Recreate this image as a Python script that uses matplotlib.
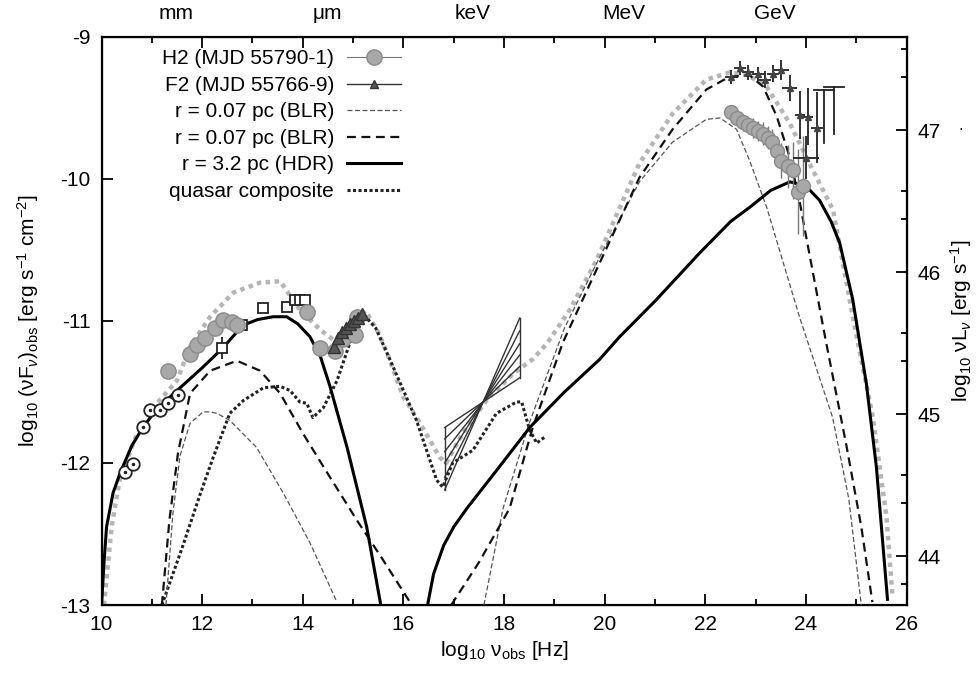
import numpy as np
import matplotlib.pyplot as plt
from matplotlib.lines import Line2D

plt.rcParams['font.family'] = ['Liberation Sans', 'DejaVu Sans']
plt.rcParams['mathtext.fontset'] = 'custom'
plt.rcParams['mathtext.rm'] = 'Liberation Sans'
plt.rcParams['mathtext.it'] = 'Liberation Sans:italic'

# ---- modele HDR (r = 3.2 pc), synchrotron puis IC
hdr_syn_x = [10.0, 10.05, 10.10, 10.23, 10.37, 10.6, 10.82, 11.1, 11.5, 12.0, 12.41, 12.81,
             13.1, 13.41, 13.68, 13.9, 14.14, 14.35, 14.54, 14.88, 15.27, 15.55]
hdr_syn_y = [-13.0, -12.7, -12.45, -12.21, -12.07, -11.88, -11.75, -11.62, -11.49, -11.33, -11.19, -11.03,
             -10.99, -10.97, -10.97, -11.02, -11.11, -11.25, -11.46, -11.89, -12.45, -13.0]
hdr_ic_x = [16.48, 16.6, 16.8, 17.0, 17.26, 17.9, 18.51, 19.2, 19.9, 20.3, 21.0, 21.89, 22.5,
            22.88, 23.3, 23.68, 24.0, 24.27, 24.5, 24.67, 24.93, 25.2, 25.4, 25.62]
hdr_ic_y = [-13.0, -12.78, -12.58, -12.45, -12.32, -12.03, -11.75, -11.5, -11.27, -11.11, -10.86, -10.52, -10.3,
            -10.2, -10.08, -10.02, -10.05, -10.15, -10.3, -10.45, -10.85, -11.44, -12.03, -12.96]

# ---- BLR fin (tirets fins)
blr1_syn_x = [11.28, 11.42, 11.56, 11.76, 12.02, 12.16, 12.29, 12.55, 13.08, 13.61, 14.14, 14.68]
blr1_syn_y = [-13.0, -12.35, -11.95, -11.72, -11.64, -11.64, -11.65, -11.70, -11.89, -12.21, -12.56, -12.98]
blr1_ic_x = [17.6, 17.98, 18.5, 19.2, 19.9, 20.69, 21.35, 22.02, 22.29, 22.62, 22.88, 23.22, 23.87,
             24.53, 24.85, 25.1]
blr1_ic_y = [-13.0, -12.32, -11.72, -11.05, -10.55, -10.02, -9.74, -9.58, -9.57, -9.65, -9.87, -10.2, -10.97,
             -11.68, -12.25, -13.0]

# ---- BLR epais (tirets)
blr2_syn_x = [11.2, 11.35, 11.52, 11.76, 12.16, 12.69, 13.15, 13.55, 14.0, 14.54, 15.07, 15.59, 16.13]
blr2_syn_y = [-13.0, -12.4, -11.93, -11.51, -11.35, -11.28, -11.35, -11.51, -11.79, -12.1, -12.4, -12.68, -12.98]
blr2_ic_x = [16.95, 17.5, 18.11, 18.57, 19.17, 19.77, 20.69, 21.35, 22.02, 22.48, 22.88, 23.15, 23.42,
             23.68, 23.88, 24.0, 24.4, 24.8, 25.1, 25.32]
blr2_ic_y = [-13.0, -12.7, -12.32, -11.75, -11.15, -10.69, -9.99, -9.65, -9.37, -9.28, -9.27, -9.35, -9.56,
             -9.85, -10.17, -10.4, -11.15, -11.87, -12.45, -12.98]

# ---- composite quasar (pointilles)
qso_x = [11.2, 11.6, 11.96, 12.22, 12.55, 12.82, 13.22, 13.55, 13.75, 13.94, 14.08, 14.2, 14.41, 14.68,
         14.94, 15.2, 15.45, 15.73, 16.26, 16.66, 16.78, 16.98, 17.38, 17.85, 18.25, 18.35, 18.51, 18.65,
         18.72, 18.8]
qso_y = [-13.0, -12.6, -12.22, -11.96, -11.65, -11.56, -11.47, -11.46, -11.49, -11.57, -11.58, -11.68, -11.61,
         -11.42, -11.15, -10.95, -11.05, -11.27, -11.70, -12.12, -12.17, -12.0, -11.91, -11.65, -11.57, -11.57,
         -11.77, -11.86, -11.84, -11.82]

# ---- modele total (gris, hors legende)
tot_x = [10.05, 10.2, 10.37, 10.7, 11.1, 11.5, 11.76, 12.16, 12.62, 13.15, 13.55, 13.94, 14.34, 14.6, 14.8,
         15.0, 15.25, 15.5, 15.67, 15.99, 16.33, 16.72, 16.85, 17.18, 17.65, 18.18, 18.57, 18.85, 19.31, 19.84,
         20.69, 21.35, 22.02, 22.48, 22.85, 23.22, 23.68, 24.14, 24.54, 24.93, 25.33, 25.6, 25.72]
tot_y = [-13.0, -12.45, -12.1, -11.8, -11.58, -11.42, -11.18, -10.97, -10.80, -10.73, -10.72, -10.92, -11.06,
         -11.13, -11.1, -11.0, -10.93, -11.08, -11.22, -11.53, -11.72, -11.96, -12.0, -11.79, -11.56, -11.37,
         -11.27, -11.16, -10.92, -10.57, -9.89, -9.54, -9.30, -9.25, -9.27, -9.35, -9.61, -9.94, -10.22, -10.97,
         -11.68, -12.38, -12.94]

# ---- donnees H2 (cercles gris)
h2_x = [11.32, 11.76, 11.90, 12.06, 12.26, 12.42, 12.60, 12.69, 14.08, 14.34, 14.64, 14.80, 15.04, 15.07]
h2_y = [-11.35, -11.23, -11.17, -11.12, -11.05, -10.99, -11.01, -11.03, -10.94, -11.19, -11.21, -11.13, -11.10, -10.97]
h2g_x = [22.52, 22.63, 22.75, 22.85, 22.95, 23.05, 23.15, 23.25, 23.32, 23.42, 23.51, 23.64, 23.74, 23.84, 23.95]
h2g_y = [-9.53, -9.57, -9.60, -9.62, -9.64, -9.66, -9.68, -9.71, -9.74, -9.80, -9.87, -9.91, -9.94, -10.09, -10.05]
h2g_ey = [0.05, 0.05, 0.06, 0.06, 0.07, 0.07, 0.08, 0.08, 0.09, 0.10, 0.12, 0.15, 0.2, 0.3, 0.35]

# ---- donnees F2 (triangles / croix)
f2_x = [14.62, 14.70, 14.78, 14.86, 14.94, 15.02, 15.10, 15.18]
f2_y = [-11.18, -11.12, -11.08, -11.05, -11.02, -11.0, -10.98, -10.95]
f2g_x = [22.52, 22.68, 22.85, 23.05, 23.18, 23.35, 23.51, 23.68, 23.88, 24.04, 24.22, 24.0]
f2g_y = [-9.28, -9.22, -9.25, -9.26, -9.30, -9.26, -9.23, -9.36, -9.55, -9.56, -9.64, -9.85]
f2g_ex = [0.12, 0.12, 0.12, 0.12, 0.12, 0.12, 0.15, 0.15, 0.1, 0.1, 0.12, 0.25]
f2g_ey = [0.05, 0.05, 0.05, 0.05, 0.06, 0.06, 0.07, 0.09, 0.17, 0.2, 0.25, 0.15]
ul_x = [24.35, 24.55]
ul_y = [-9.37, -9.35]
ul_bas = [-9.75, -9.68]

# ---- autres donnees (cercles ouverts, carres)
rad_x = [10.47, 10.63, 10.82, 10.96, 11.16, 11.32, 11.52]
rad_y = [-12.06, -12.01, -11.75, -11.63, -11.63, -11.58, -11.52]
sq_x = [12.4, 12.79, 13.2, 13.68, 13.85, 13.95, 14.05]
sq_y = [-11.19, -11.03, -10.91, -10.90, -10.85, -10.85, -10.85]
sq_ey = [0.08, 0.02, 0.03, 0.03, 0.03, 0.03, 0.03]

# ---- papillon X (keV)
bt_x = [16.82, 18.31]
bt_gauche = [-11.75, -11.83, -11.92, -12.0, -12.1, -12.19]
bt_droite = [-11.40, -11.32, -11.24, -11.16, -11.07, -10.98]

haut_pos = [11.48, 14.48, 17.38, 20.38, 23.38]
haut_lab = ['mm', 'μm', 'keV', 'MeV', 'GeV']

decal = 56.655   # log vL - log vF

fig = plt.figure(figsize=(9.78, 6.75), dpi=100)
ax = fig.add_axes([0.1038, 0.1037, 0.8232, 0.8415])

gris = '#a8a8a8'
ax.plot(tot_x, tot_y, color='#b5b5b5', ls=(0, (1, 1)), lw=3.2, zorder=1)
ax.plot(qso_x, qso_y, color='#222222', ls=(0, (1, 0.8)), lw=2.2, zorder=3)
ax.plot(blr1_syn_x, blr1_syn_y, color='#555555', ls=(0, (4, 2)), lw=0.9, zorder=3)
ax.plot(blr1_ic_x, blr1_ic_y, color='#555555', ls=(0, (4, 2)), lw=0.9, zorder=3)
ax.plot(blr2_syn_x, blr2_syn_y, color='#111111', ls=(0, (4, 2.5)), lw=1.6, zorder=3)
ax.plot(blr2_ic_x, blr2_ic_y, color='#111111', ls=(0, (4, 2.5)), lw=1.6, zorder=3)
ax.plot(hdr_syn_x, hdr_syn_y, color='black', lw=2.2, zorder=4)
ax.plot(hdr_ic_x, hdr_ic_y, color='black', lw=2.2, zorder=4)

# papillon
for yg, yd in zip(bt_gauche, bt_droite):
    ax.plot(bt_x, [yg, yd], color='#333333', lw=1.0, zorder=2)
ax.plot([bt_x[0], bt_x[0]], [bt_gauche[0], bt_gauche[-1]], color='#333333', lw=1.0)
ax.plot([bt_x[1], bt_x[1]], [bt_droite[0], bt_droite[-1]], color='#333333', lw=1.0)

# donnees
ax.plot(rad_x, rad_y, 'o', ms=9, mfc='white', mec='#222222', mew=1.3, zorder=5)
ax.plot(rad_x, rad_y, '.', ms=3, color='#222222', zorder=6)
ax.errorbar(sq_x, sq_y, yerr=sq_ey, fmt='s', ms=7, mfc='white', mec='#222222', mew=1.3,
            ecolor='#222222', elinewidth=1.3, capsize=0, zorder=5)
ax.errorbar(h2_x, h2_y, yerr=0.03, fmt='o', ms=11, color=gris, mec='#8a8a8a', ecolor='#777777',
            elinewidth=1, capsize=0, zorder=5)
ax.errorbar(h2g_x, h2g_y, yerr=h2g_ey, xerr=0.05, fmt='o', ms=10, color=gris, mec='#8a8a8a',
            ecolor='#777777', elinewidth=1, capsize=0, zorder=5)
ax.errorbar(f2_x, f2_y, yerr=0.04, fmt='^', ms=8, color='#555555', mec='#333333', ecolor='#333333',
            elinewidth=1, capsize=0, zorder=6)
ax.errorbar(f2g_x, f2g_y, xerr=f2g_ex, yerr=f2g_ey, fmt='^', ms=5, color='#444444', ecolor='#222222',
            elinewidth=1.3, capsize=0, zorder=6)
for x0, y0, yb in zip(ul_x, ul_y, ul_bas):
    ax.plot([x0 - 0.2, x0 + 0.2], [y0, y0], color='#222222', lw=1.3)
    ax.plot([x0, x0], [y0, yb], color='#222222', lw=1.3)

ax.set_xlim(10, 26)
ax.set_ylim(-13, -9)
ax.set_xticks(np.arange(10, 27, 2))
ax.set_xticks(np.arange(11, 26, 2), minor=True)
ax.set_yticks([-13, -12, -11, -10, -9])
ax.set_yticklabels(['-13', '-12', '-11', '-10', '-9'])
ax.tick_params(which='both', direction='in', top=True, right=False, labelsize=15, width=1.3)
ax.tick_params(which='major', length=8)
ax.tick_params(which='minor', length=4)
ax.tick_params(axis='x', pad=7)
ax.tick_params(axis='y', pad=8)
for s in ax.spines.values():
    s.set_linewidth(1.6)

ax.set_xlabel('log$_{10}$ ν$_{\\rm obs}$ [Hz]', fontsize=15, labelpad=4)
ax.set_ylabel('log$_{10}$ (νF$_{ν}$)$_{\\rm obs}$ [erg s$^{-1}$ cm$^{-2}$]', fontsize=15, labelpad=14)

ax2 = ax.twinx()
ax2.set_ylim(-13 + decal, -9 + decal)
ax2.set_yticks([44, 45, 46, 47])
ax2.set_yticks([43.8, 44.37, 44.57, 45.37, 45.57, 46.37, 46.57, 47.37, 47.57], minor=True)
ax2.tick_params(which='both', direction='in', labelsize=15, width=1.3, pad=8)
ax2.tick_params(which='major', length=8)
ax2.tick_params(which='minor', length=4)
ax2.set_ylabel('log$_{10}$ νL$_{ν}$ [erg s$^{-1}$]', fontsize=15, labelpad=5)

for p, lab in zip(haut_pos, haut_lab):
    ax.text(p, 1.0405, lab, transform=ax.get_xaxis_transform(), ha='center', va='center', fontsize=15)

fig.text(0.982, 1 - 130 / 675, '.', fontsize=12, ha='center')

handles = [
    Line2D([], [], color='#777777', lw=0.8, marker='o', ms=11, mfc=gris, mec='#8a8a8a'),
    Line2D([], [], color='#333333', lw=1.0, marker='^', ms=6, mfc='#555555', mec='#333333'),
    Line2D([], [], color='#555555', ls=(0, (4, 2)), lw=0.9),
    Line2D([], [], color='#111111', ls=(0, (4, 2.5)), lw=1.6),
    Line2D([], [], color='black', lw=2.2),
    Line2D([], [], color='#222222', ls=(0, (1, 0.8)), lw=2.2),
]
labels = ['H2 (MJD 55790-1)', 'F2 (MJD 55766-9)', 'r = 0.07 pc (BLR)', 'r = 0.07 pc (BLR)',
          'r = 3.2 pc (HDR)', 'quasar composite']
ax.legend(handles, labels, loc='upper left', bbox_to_anchor=(0.06, 1.0), frameon=False,
          markerfirst=False, fontsize=15, handlelength=2.6, handletextpad=0.6,
          labelspacing=0.36, borderaxespad=0.2)

fig.savefig('out.png', dpi=100)
